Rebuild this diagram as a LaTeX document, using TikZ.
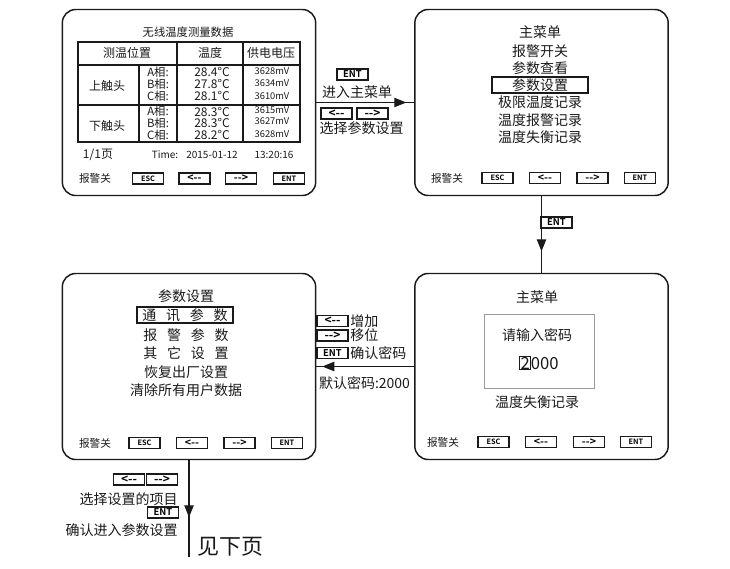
\documentclass[tikz,border=0pt]{standalone}
\usepackage{fontspec}
\setmainfont{Noto Sans CJK SC}[BoldFont={Noto Sans CJK SC Bold}]
\usepackage{xcolor}
\usepackage{tikz}
\usetikzlibrary{arrows.meta,decorations.markings}
\definecolor{lcdInk}{HTML}{1A1A1A}
\definecolor{lcdFrame}{HTML}{9A9A9A}
\newcommand{\kgap}{\hspace{0.7em}}

\begin{document}
\begin{tikzpicture}[x=0.75pt, y=-0.75pt,
    screen/.style={rectangle, draw=lcdInk, line width=1.1pt, rounded corners=10pt, minimum width=190pt, minimum height=139.5pt, inner sep=0pt},
    keycap/.style={rectangle, draw=lcdInk, line width=1.1pt, minimum width=23pt, minimum height=8.3pt, inner sep=0pt, font=\fontsize{5.5}{6}\selectfont\bfseries},
    arrowcap/.style={keycap, font=\fontsize{8}{6}\selectfont\bfseries},
    bigcap/.style={keycap, font=\fontsize{7}{8}\selectfont\bfseries},
    bigarrow/.style={keycap, font=\fontsize{9}{8}\selectfont\bfseries},
    menu/.style={inner sep=0pt, font=\fontsize{10.5}{12}\selectfont, color=lcdInk},
    note/.style={inner sep=0pt, font=\fontsize{10.5}{12}\selectfont, color=lcdInk},
    cell/.style={inner sep=0pt, font=\fontsize{8.5}{9}\selectfont, color=lcdInk},
    meter/.style={inner sep=0pt, font=\fontsize{7}{8}\selectfont, color=lcdInk},
    softkey/.style={inner sep=0pt, font=\fontsize{8}{9}\selectfont, color=lcdInk},
    flow/.style={line width=0.9pt, draw=lcdInk, postaction={decorate}, decoration={markings, mark=at position #1 with {\arrow{Triangle[length=9pt,width=7pt]}}}}
]
\useasboundingbox (0,0) rectangle (730,568);

% Screens
\node[screen] (scr1) at (189,102.5) {};
\node[screen] (scr2) at (541.5,102.5) {};
\node[screen] (scr3) at (189,366.5) {};
\node[screen] (scr4) at (541.5,366.5) {};

% Screen 1: measurement table
\node[cell] (s1title) at (188,32) {无线温度测量数据};
\draw[lcdInk, line width=0.8pt] (78,42) rectangle (300,142);
\draw[lcdInk, line width=0.8pt] (78,65) -- (300,65);
\draw[lcdInk, line width=0.8pt] (78,105) -- (300,105);
\draw[lcdInk, line width=0.8pt] (177,42) -- (177,142);
\draw[lcdInk, line width=0.8pt] (243,42) -- (243,142);
\draw[lcdInk, line width=0.8pt] (139,65) -- (139,142);
\node[cell, font=\fontsize{9}{10}\selectfont] (hpos) at (127,53) {测温位置};
\node[cell, font=\fontsize{9}{10}\selectfont] (htemp) at (210,53) {温度};
\node[cell, font=\fontsize{9}{10}\selectfont] (hvolt) at (271,53) {供电电压};
\node[cell, font=\fontsize{9}{10}\selectfont] (upper) at (107,86) {上触头};
\node[cell] (ua) at (158,72) {A相:};
\node[cell] (ub) at (158,84) {B相:};
\node[cell] (uc) at (158,96) {C相:};
\node[cell, font=\fontsize{9}{10}\selectfont] (uta) at (212,72) {28.4°C};
\node[cell, font=\fontsize{9}{10}\selectfont] (utb) at (212,84) {27.8°C};
\node[cell, font=\fontsize{9}{10}\selectfont] (utc) at (212,96) {28.1°C};
\node[meter] (uva) at (272,71) {3628mV};
\node[meter] (uvb) at (272,83) {3634mV};
\node[meter] (uvc) at (272,96) {3610mV};
\node[cell, font=\fontsize{9}{10}\selectfont] (lower) at (107,126) {下触头};
\node[cell] (la) at (158,111) {A相:};
\node[cell] (lb) at (158,123) {B相:};
\node[cell] (lc) at (158,135) {C相:};
\node[cell, font=\fontsize{9}{10}\selectfont] (lta) at (212,112) {28.3°C};
\node[cell, font=\fontsize{9}{10}\selectfont] (ltb) at (212,123) {28.3°C};
\node[cell, font=\fontsize{9}{10}\selectfont] (ltc) at (212,135) {28.2°C};
\node[meter] (lva) at (272,110) {3615mV};
\node[meter] (lvb) at (272,121) {3627mV};
\node[meter] (lvc) at (272,134) {3628mV};
\node[cell, font=\fontsize{9}{10}\selectfont] (page) at (98,155) {1/1页};
\node[meter, font=\fontsize{7.5}{8}\selectfont] (tlabel) at (165,155) {Time:};
\node[meter, font=\fontsize{7.5}{8}\selectfont] (tdate) at (212,155) {2015-01-12};
\node[meter, font=\fontsize{7.5}{8}\selectfont] (tclock) at (274,155) {13:20:16};
\node[softkey] (s1off) at (95,178) {报警关};
\node[keycap] (s1esc) at (148,178.5) {ESC};
\node[arrowcap] (s1left) at (194.5,178.5) {<-{}-};
\node[arrowcap] (s1right) at (241,178.5) {-{}->};
\node[keycap] (s1ent) at (289,178.5) {ENT};

% Screen 2: main menu
\node[menu] (m1) at (540,32) {主菜单};
\node[menu] (m2) at (540,51) {报警开关};
\node[menu] (m3) at (540,68) {参数查看};
\node[menu, draw=lcdInk, line width=0.8pt, minimum width=72pt, minimum height=12pt] (m4) at (540,85) {参数设置};
\node[menu] (m5) at (540,102) {极限温度记录};
\node[menu] (m6) at (540,120) {温度报警记录};
\node[menu] (m7) at (540,137) {温度失衡记录};
\node[softkey] (s2off) at (447,178) {报警关};
\node[keycap] (s2esc) at (497.5,178) {ESC};
\node[arrowcap] (s2left) at (545,178) {<-{}-};
\node[arrowcap] (s2right) at (592.5,178) {-{}->};
\node[keycap] (s2ent) at (640,178) {ENT};

% Screen 3: parameter settings
\node[menu] (p1) at (186,296) {参数设置};
\node[menu, draw=lcdInk, line width=0.8pt, minimum width=72pt, minimum height=12pt] (p2) at (185,315) {通\kgap 讯\kgap 参\kgap 数};
\node[menu] (p3) at (186,335) {报\kgap 警\kgap 参\kgap 数};
\node[menu] (p4) at (186,353) {其\kgap 它\kgap 设\kgap 置};
\node[menu] (p5) at (186,372) {恢复出厂设置};
\node[menu] (p6) at (186,390) {清除所有用户数据};
\node[softkey] (s3off) at (95,443) {报警关};
\node[keycap] (s3esc) at (144.5,443) {ESC};
\node[arrowcap] (s3left) at (192,443) {<-{}-};
\node[arrowcap] (s3right) at (239.5,443) {-{}->};
\node[keycap] (s3ent) at (287,443) {ENT};

% Screen 4: password entry
\node[menu] (w1) at (537,297) {主菜单};
\node[rectangle, draw=lcdFrame, line width=0.6pt, minimum width=82.5pt, minimum height=55.5pt] (pwbox) at (539,351) {};
\node[menu] (w2) at (537,335) {请输入密码};
\node[menu, font=\fontsize{12.5}{14}\selectfont] (w3) at (539,363) {{\setlength\fboxsep{0.3pt}\setlength\fboxrule{0.5pt}\fbox{2}}000};
\node[menu] (w4) at (537,402) {温度失衡记录};
\node[softkey] (s4off) at (443,442) {报警关};
\node[keycap] (s4esc) at (493.5,442) {ESC};
\node[arrowcap] (s4left) at (541,442) {<-{}-};
\node[arrowcap] (s4right) at (589,442) {-{}->};
\node[keycap] (s4ent) at (636,442) {ENT};

% Connections
\coordinate (pend) at (189,557);
\draw[flow=0.92] (scr1.east) -- (scr2.west);
\draw[flow=0.72] (scr2.south) -- (scr4.north);
\draw[flow=0.94] (scr4.west) -- (scr3.east);
\draw[flow=0.59] (scr3.south) -- (pend);

% Labels
\node[bigcap] (kEnter) at (352.5,74.5) {ENT};
\node[note] (tEnter) at (357,92) {进入主菜单};
\node[bigarrow] (kSelL) at (336.5,113.5) {<-{}-};
\node[bigarrow] (kSelR) at (372.5,113.5) {-{}->};
\node[note] (tSel) at (361.5,128) {选择参数设置};
\node[bigcap] (kDown) at (556.5,222.5) {ENT};
\node[bigarrow] (kInc) at (332.5,321) {<-{}-};
\node[note, anchor=west] (tInc) at (350,321) {增加};
\node[bigarrow] (kMove) at (332.5,335.5) {-{}->};
\node[note, anchor=west] (tMove) at (350,335.5) {移位};
\node[bigcap] (kOk) at (332.5,353) {ENT};
\node[note, anchor=west] (tOk) at (350,353) {确认密码};
\node[note] (tDefault) at (364.5,383) {默认密码:2000};
\node[bigarrow] (kItemL) at (129,479.5) {<-{}-};
\node[bigarrow] (kItemR) at (162,479.5) {-{}->};
\node[note, anchor=east] (tItem) at (178,499) {选择设置的项目};
\node[bigcap] (kGo) at (163,512.5) {ENT};
\node[note, anchor=east] (tGo) at (178,530) {确认进入参数设置};
\node[note, anchor=west, font=\fontsize{16.5}{18}\selectfont] (tNext) at (197,547) {见下页};

\end{tikzpicture}
\end{document}
